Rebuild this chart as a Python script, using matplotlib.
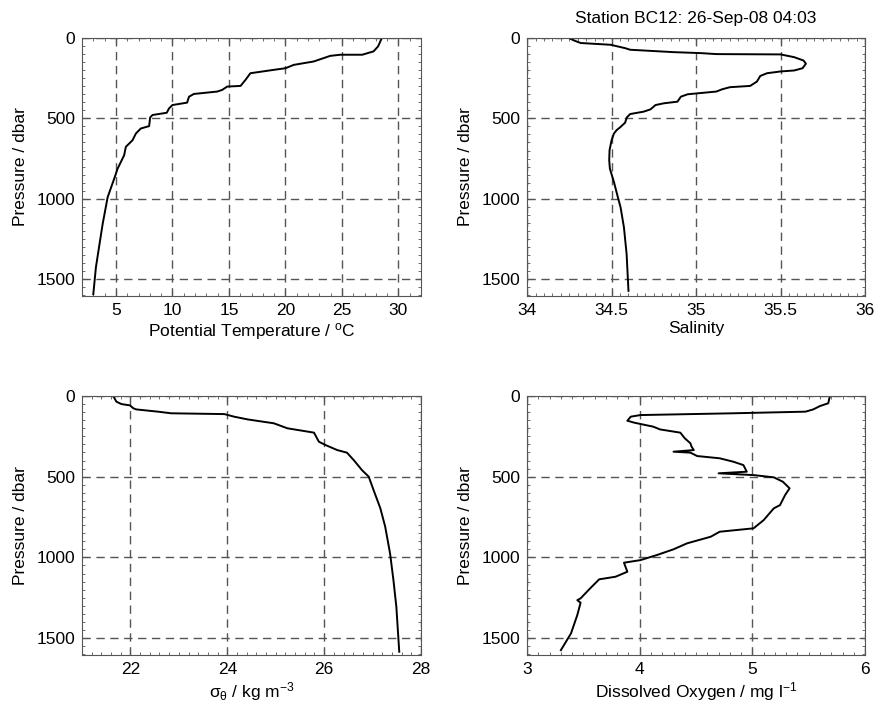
import matplotlib
matplotlib.use('Agg')
import matplotlib.pyplot as plt
from matplotlib.ticker import MultipleLocator

plt.rcParams['font.family'] = ['Liberation Sans', 'DejaVu Sans']
plt.rcParams['mathtext.default'] = 'regular'

# potential temperature profile
temp_p = [0, 52, 83, 104, 104, 111, 125, 146, 167, 188, 198, 219, 260, 298, 302, 323,
          333, 348, 365, 402, 417, 438, 465, 479, 494, 548, 563, 594, 636, 677, 729,
          771, 813, 875, 990, 1156, 1250, 1427, 1594]
temp_v = [28.53, 28.2, 27.8, 26.8, 24.86, 23.97, 23.38, 22.5, 20.74, 20.0, 18.97, 16.9,
          16.47, 16.03, 14.85, 14.4, 13.97, 11.9, 11.47, 11.3, 10.0, 9.7, 9.5, 8.24, 8.03,
          7.94, 7.2, 6.77, 6.47, 5.88, 5.73, 5.44, 5.15, 4.85, 4.27, 3.83, 3.62, 3.23, 3.0]

# salinity profile
sal_p = [0, 15, 31, 42, 63, 73, 88, 94, 100, 102, 119, 140, 160, 188, 202, 208, 219, 236,
         271, 298, 306, 319, 333, 350, 365, 396, 406, 417, 444, 458, 473, 494, 527, 556,
         573, 594, 636, 698, 761, 813, 896, 990, 1052, 1177, 1344, 1573]
sal_v = [34.248, 34.277, 34.317, 34.494, 34.58, 34.61, 34.87, 35.03, 35.12, 35.5, 35.58,
         35.636, 35.65, 35.63, 35.58, 35.5, 35.42, 35.38, 35.36, 35.32, 35.2, 35.154, 35.12,
         34.95, 34.91, 34.89, 34.81, 34.76, 34.73, 34.69, 34.61, 34.59, 34.58, 34.55, 34.53,
         34.514, 34.5, 34.488, 34.486, 34.49, 34.514, 34.537, 34.553, 34.573, 34.589, 34.6]

# sigma-theta profile
sig_p = [0, 35, 50, 58, 76, 83, 97, 107, 112, 128, 145, 169, 200, 227, 283, 304, 335, 351,
         397, 459, 500, 583, 696, 810, 975, 1141, 1306, 1585]
sig_v = [21.645, 21.71, 21.815, 21.99, 22.06, 22.12, 22.57, 22.84, 23.94, 24.14, 24.42,
         24.96, 25.24, 25.79, 25.89, 26.03, 26.27, 26.47, 26.61, 26.78, 26.92, 27.02, 27.16,
         27.26, 27.36, 27.43, 27.49, 27.55]

# dissolved oxygen profile
oxy_p = [0, 45, 62, 83, 97, 107, 118, 128, 153, 165, 190, 207, 227, 262, 293, 314, 335,
         345, 351, 372, 386, 407, 428, 469, 479, 490, 504, 531, 572, 614, 676, 696, 769,
         820, 841, 872, 913, 950, 986, 1017, 1033, 1089, 1120, 1136, 1192, 1254, 1265,
         1281, 1357, 1471, 1575]
oxy_v = [5.688, 5.673, 5.6, 5.54, 5.47, 4.83, 4.006, 3.92, 3.89, 3.95, 4.12, 4.18, 4.36,
         4.40, 4.45, 4.46, 4.48, 4.30, 4.45, 4.51, 4.71, 4.83, 4.92, 4.95, 4.70, 5.01, 5.19,
         5.27, 5.33, 5.29, 5.245, 5.19, 5.10, 5.01, 4.71, 4.63, 4.42, 4.30, 4.15, 4.006,
         3.86, 3.89, 3.785, 3.64, 3.56, 3.475, 3.446, 3.475, 3.446, 3.39, 3.30]

title = 'Station BC12: 26-Sep-08 04:03'

temp_ticks = [5, 10, 15, 20, 25, 30]
sal_ticks = [34, 34.5, 35, 35.5, 36]
sig_ticks = [22, 24, 26, 28]
oxy_ticks = [3, 4, 5, 6]
p_ticks = [0, 500, 1000, 1500]

panels = [
    # (x, p, xlim, ticks, minor, xlabel, axes rect)
    (temp_v, temp_p, (2, 32), temp_ticks, 1, 'Potential Temperature / $^o$C',
     [0.0935, 0.5866, 0.3866, 0.3603]),
    (sal_v, sal_p, (34, 36), sal_ticks, 0.05, 'Salinity',
     [0.601, 0.5866, 0.3854, 0.3603]),
    (sig_v, sig_p, (21, 28), sig_ticks, 0.2, r'$\sigma_\theta$ / kg m$^{-3}$',
     [0.0935, 0.0852, 0.3866, 0.3617]),
    (oxy_v, oxy_p, (3, 6), oxy_ticks, 0.1, 'Dissolved Oxygen / mg l$^{-1}$',
     [0.601, 0.0852, 0.3854, 0.3617]),
]

fig = plt.figure(figsize=(8.77, 7.16), dpi=100)

for i, (xv, pv, xlim, ticks, minor, xlabel, rect) in enumerate(panels):
    ax = fig.add_axes(rect)
    ax.plot(xv, pv, color='black', lw=1.4)
    ax.set_xticks(ticks)
    ax.set_xticklabels([('%g' % t) for t in ticks])
    ax.xaxis.set_minor_locator(MultipleLocator(minor))
    ax.set_yticks(p_ticks)
    ax.yaxis.set_minor_locator(MultipleLocator(50))
    ax.set_xlim(*xlim)
    ax.set_ylim(1605, 0)
    ax.grid(True, which='major', color='#555555', ls=(0, (6, 4)), lw=1.0)
    ax.tick_params(which='both', direction='in', top=True, right=True,
                   colors='#555555', labelcolor='black', labelsize=12.5, pad=5)
    ax.tick_params(which='major', length=4)
    ax.tick_params(which='minor', length=2.5)
    for s in ax.spines.values():
        s.set_color('#555555')
    ax.set_xlabel(xlabel, fontsize=12.5, labelpad=2)
    ax.set_ylabel('Pressure / dbar', fontsize=12.5, labelpad=6)
    if i == 1:
        ax.set_title(title, fontsize=12.5, pad=11)

fig.savefig('out.png', dpi=100)
